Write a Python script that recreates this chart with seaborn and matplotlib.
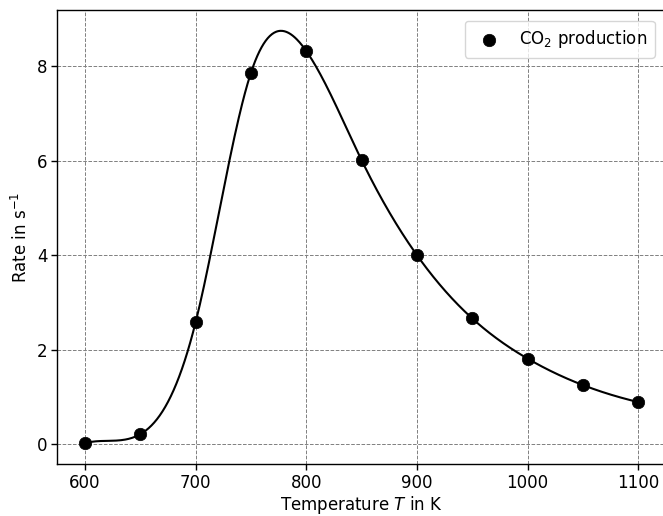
import numpy as np
import pandas as pd
import seaborn as sns
import matplotlib
matplotlib.use("Agg")
import matplotlib.pyplot as plt

# Measured CO2 production rate versus temperature
temperature = [600, 650, 700, 750, 800, 850, 900, 950, 1000, 1050, 1100]
rate = [0.02, 0.21, 2.58, 7.86, 8.32, 6.01, 4.00, 2.66, 1.81, 1.25, 0.89]
series_label = "CO$_2$ production"


def not_a_knot_spline(x, y, x_new):
    """Cubic spline through (x, y) with not-a-knot end conditions."""
    x = np.asarray(x, float)
    y = np.asarray(y, float)
    n = len(x)
    h = np.diff(x)
    A = np.zeros((n, n))
    b = np.zeros(n)
    for i in range(1, n - 1):
        A[i, i - 1] = h[i - 1]
        A[i, i] = 2 * (h[i - 1] + h[i])
        A[i, i + 1] = h[i]
        b[i] = 6 * ((y[i + 1] - y[i]) / h[i] - (y[i] - y[i - 1]) / h[i - 1])
    # continuity of the third derivative at the second and second-to-last knots
    A[0, 0] = -1 / h[0]
    A[0, 1] = 1 / h[0] + 1 / h[1]
    A[0, 2] = -1 / h[1]
    A[-1, -3] = -1 / h[-2]
    A[-1, -2] = 1 / h[-2] + 1 / h[-1]
    A[-1, -1] = -1 / h[-1]
    M = np.linalg.solve(A, b)
    idx = np.clip(np.searchsorted(x, x_new) - 1, 0, n - 2)
    x0, x1 = x[idx], x[idx + 1]
    hh = x1 - x0
    t0 = x1 - x_new
    t1 = x_new - x0
    return (M[idx] * t0**3 / (6 * hh) + M[idx + 1] * t1**3 / (6 * hh)
            + (y[idx] / hh - M[idx] * hh / 6) * t0
            + (y[idx + 1] / hh - M[idx + 1] * hh / 6) * t1)


points = pd.DataFrame({"T": temperature, "rate": rate})
t_fine = np.linspace(min(temperature), max(temperature), 800)
curve = pd.DataFrame({"T": t_fine, "rate": not_a_knot_spline(temperature, rate, t_fine)})

sns.set_theme(style="ticks", rc={
    "font.size": 12,
    "axes.labelsize": 12,
    "xtick.labelsize": 12,
    "ytick.labelsize": 12,
    "legend.fontsize": 12,
    "axes.edgecolor": "black",
    "axes.linewidth": 1.0,
    "xtick.color": "black",
    "ytick.color": "black",
    "text.color": "black",
    "axes.labelcolor": "black",
})
plt.rcParams["font.family"] = ["DejaVu Sans"]
plt.rcParams["mathtext.fontset"] = "dejavusans"

fig = plt.figure(figsize=(6.63, 5.16), dpi=100)
W, H = 663, 516
left, right, top, bottom = 57.3, 665.9, 10.2, 463.8
ax = fig.add_axes([left / W, (H - bottom) / H, (right - left) / W, (bottom - top) / H])

sns.lineplot(data=curve, x="T", y="rate", ax=ax, color="black", linewidth=1.5, zorder=2)
sns.scatterplot(data=points, x="T", y="rate", ax=ax, color="black", s=80,
                edgecolor="black", linewidth=0.5, label=series_label, zorder=3)

ax.set_xticks([600, 700, 800, 900, 1000, 1100])
ax.set_yticks([0, 2, 4, 6, 8])
ax.grid(True, linestyle="--", color="0.5", linewidth=0.7)
ax.set_axisbelow(True)
ax.set_xlabel("Temperature $T$ in K", labelpad=1.5)
ax.set_ylabel("Rate in s$^{-1}$")
ax.tick_params(direction="out", length=4, width=1, pad=3)
for side in ["top", "right"]:
    ax.spines[side].set_visible(True)

ax.legend(loc="upper right", frameon=True, fancybox=True, framealpha=0.8,
          edgecolor="0.8", borderpad=0.45, handletextpad=0.8,
          bbox_to_anchor=(0.995, 0.995))

fig.savefig("out.png", dpi=100)
